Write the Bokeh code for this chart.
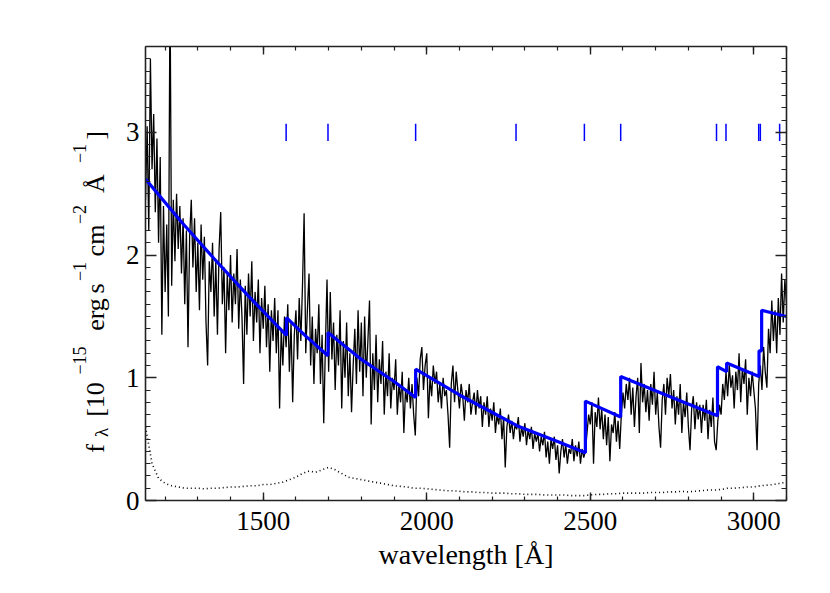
from math import pi
from bokeh.plotting import figure
from bokeh.layouts import row
from bokeh.models import Range1d, FixedTicker, LinearAxis
from bokeh.core.properties import value
from bokeh.embed import file_html
from bokeh.resources import INLINE

# ---------------- data ----------------
wave_start = 1140.0   # first sample of the spectrum [A]
wave_step = 5.0       # sampling of the spectrum [A]
flux = [
    # 1140-1235
    2.45, 3.05, 2.20, 3.60, 2.70, 3.15, 2.35, 2.95, 2.10, 2.80, 1.35, 2.40, 1.70, 2.25, 1.50, 4.20, 1.75, 2.45, 1.95, 2.50,
    # 1240-1335
    2.05, 2.40, 1.85, 2.30, 1.60, 2.20, 1.25, 2.15, 2.45, 1.90, 2.30, 1.70, 2.10, 1.55, 2.25, 1.80, 2.15, 1.45, 1.10, 1.95,
    # 1340-1435
    1.70, 2.10, 1.50, 1.95, 1.35, 2.05, 2.35, 1.60, 1.90, 1.20, 1.85, 1.55, 2.00, 1.45, 1.85, 1.60, 2.05, 1.40, 1.80, 1.50,
    # 1440-1535
    0.95, 1.75, 1.35, 1.85, 1.50, 1.95, 1.30, 1.70, 1.45, 1.80, 1.20, 1.65, 1.40, 1.75, 1.25, 1.60, 1.05, 1.55, 1.30, 1.65,
    # 1540-1635
    1.20, 1.55, 0.75, 1.40, 1.10, 1.50, 1.25, 1.60, 1.05, 1.45, 0.80, 1.35, 1.55, 1.15, 1.65, 1.30, 1.75, 2.34, 1.20, 1.55,
    # 1640-1735
    1.85, 1.10, 1.50, 0.95, 1.40, 1.20, 1.60, 0.95, 1.35, 0.63, 1.25, 1.80, 1.05, 1.70, 1.15, 1.45, 0.90, 1.35, 1.10, 1.55,
    # 1740-1835
    0.75, 1.30, 1.00, 1.45, 0.85, 1.20, 0.72, 1.10, 1.40, 0.95, 1.55, 1.05, 1.45, 0.85, 1.50, 1.00, 1.30, 1.63, 0.62, 1.20,
    # 1840-1935
    0.90, 1.35, 0.80, 1.15, 0.95, 1.30, 0.70, 1.05, 0.85, 1.20, 0.75, 1.00, 0.90, 1.15, 0.70, 0.95, 0.80, 1.05, 0.55, 0.90,
    # 1940-2035
    0.80, 1.00, 0.75, 0.95, 0.70, 0.53, 1.00, 0.85, 1.15, 1.25, 0.90, 1.10, 1.20, 0.67, 1.00, 0.85, 1.10, 0.95, 1.05, 0.80,
    # 2040-2135
    0.95, 0.75, 1.00, 0.85, 0.90, 0.70, 0.43, 0.95, 1.10, 0.80, 1.05, 0.90, 0.75, 0.95, 0.85, 0.65, 0.90, 0.80, 0.95, 0.70,
    # 2140-2235
    0.80, 0.88, 0.70, 0.90, 0.75, 0.85, 0.60, 0.80, 0.70, 0.85, 0.60, 0.75, 0.65, 0.80, 0.55, 0.70, 0.62, 0.75, 0.50, 0.68,
    # 2240-2335
    0.27, 0.60, 0.70, 0.55, 0.65, 0.50, 0.62, 0.58, 0.68, 0.48, 0.60, 0.52, 0.63, 0.45, 0.58, 0.50, 0.60, 0.42, 0.55, 0.48,
    # 2340-2435
    0.55, 0.40, 0.52, 0.45, 0.56, 0.35, 0.48, 0.30, 0.50, 0.42, 0.52, 0.33, 0.45, 0.22, 0.40, 0.50, 0.35, 0.46, 0.30, 0.42,
    # 2440-2535
    0.38, 0.50, 0.32, 0.45, 0.36, 0.48, 0.30, 0.42, 0.35, 0.40, 0.55, 0.70, 0.62, 0.80, 0.30, 0.72, 0.60, 0.84, 0.58, 0.75,
    # 2540-2635
    0.50, 0.70, 0.45, 0.68, 0.32, 0.62, 0.55, 0.72, 0.48, 0.65, 0.42, 0.70, 0.88, 0.75, 0.95, 0.82, 1.00, 0.70, 0.92, 0.60,
    # 2640-2735
    0.85, 1.00, 0.55, 1.12, 0.80, 0.95, 0.72, 0.90, 0.65, 0.95, 0.78, 1.05, 0.70, 0.88, 0.60, 0.43, 0.82, 0.95, 0.70, 1.00,
    # 2740-2835
    0.85, 1.03, 0.75, 0.90, 0.62, 0.85, 0.70, 0.95, 0.55, 0.80, 0.68, 0.88, 0.60, 0.41, 0.75, 0.85, 0.58, 0.80, 0.66, 0.78,
    # 2840-2935
    0.55, 0.78, 0.65, 0.82, 0.50, 0.74, 0.60, 0.84, 0.48, 0.41, 0.65, 0.78, 0.70, 0.95, 0.82, 1.05, 0.85, 1.10, 0.92, 1.02,
    # 2940-3035
    0.75, 1.05, 0.90, 1.20, 0.80, 1.08, 0.95, 1.15, 0.70, 1.00, 0.85, 1.05, 0.90, 0.75, 0.41, 0.95, 1.10, 0.90, 1.25, 1.05,
    # 3040-3100
    0.92, 1.40, 1.20, 1.63, 1.30, 1.55, 1.20, 1.65, 1.35, 1.85, 1.45, 1.80, 1.60,
]

err_start = 1140.0    # first sample of the error spectrum [A]
err_step = 20.0
err = [
    0.60, 0.30, 0.18, 0.14, 0.12, 0.11, 0.10, 0.10, 0.10, 0.095,
    0.10, 0.10, 0.105, 0.11, 0.11, 0.115, 0.12, 0.12, 0.13, 0.13,
    0.14, 0.15, 0.17, 0.19, 0.22, 0.24, 0.23, 0.25, 0.27, 0.25,
    0.22, 0.19, 0.18, 0.17, 0.16, 0.15, 0.14, 0.13, 0.12, 0.115,
    0.11, 0.10, 0.10, 0.095, 0.09, 0.085, 0.08, 0.08, 0.075, 0.07,
    0.07, 0.065, 0.065, 0.06, 0.06, 0.06, 0.055, 0.055, 0.05, 0.05,
    0.05, 0.045, 0.045, 0.045, 0.045, 0.04, 0.04, 0.04, 0.045, 0.05,
    0.05, 0.055, 0.055, 0.06, 0.06, 0.06, 0.06, 0.065, 0.065, 0.065,
    0.07, 0.07, 0.075, 0.07, 0.075, 0.08, 0.085, 0.085, 0.09, 0.10,
    0.10, 0.105, 0.11, 0.11, 0.12, 0.125, 0.13, 0.14, 0.15,
]

model_wave = [1140, 1250, 1350, 1450, 1571, 1571, 1630, 1698, 1698, 1800, 1900, 1966, 1966,
              2100, 2276, 2400, 2485, 2485, 2593, 2593, 2750, 2889, 2889, 2917, 2917,
              3016, 3016, 3024, 3024, 3100]
model_flux = [2.62, 2.27, 1.97, 1.68, 1.345, 1.49, 1.34, 1.18, 1.37, 1.15, 0.97, 0.84, 1.07,
              0.86, 0.61, 0.48, 0.39, 0.81, 0.68, 1.01, 0.84, 0.69, 1.09, 1.05, 1.12,
              1.01, 1.22, 1.22, 1.55, 1.50]

line_wave = [1570, 1698, 1966, 2273, 2482, 2593, 2886, 2915, 3015, 3020, 3079]
line_level = 3.0

x_major = [1500, 2000, 2500, 3000]
x_minor = list(range(1200, 3101, 100))
y_major = [0, 1, 2, 3]
y_minor = [round(0.1 * i, 1) for i in range(38)]
x_label = "wavelength [Å]"
# y label pieces: text, role (main / sub / sup)
y_label_parts = [
    ("f", "main"), ("λ", "sub"), ("[10", "main"), ("−15", "sup"), ("erg", "main"),
    ("s", "main"), ("−1", "sup"), ("cm", "main"), ("−2", "sup"), ("Å", "main"),
    ("−1", "sup"), ("]", "main"),
]

wave = [wave_start + wave_step * i for i in range(len(flux))]
err_wave = [err_start + err_step * i for i in range(len(err))]

# ---------------- layout constants ----------------
X0, X1, Y0, Y1 = 1140, 3100, 0.0, 3.7
FONT = "Liberation Serif"
LW = 120                   # width of the panel holding the y-axis title
FW, FH = 641, 454          # frame size
BT, BB = 46, 80            # top / bottom borders
FB = BT + FH               # frame bottom on the page

yr = Range1d(Y0, Y1)

# ---------------- main figure ----------------
p = figure(frame_width=FW, frame_height=FH, title=None,
           x_range=Range1d(X0, X1), y_range=yr,
           output_backend="svg", toolbar_location=None,
           x_axis_location=None, y_axis_location=None,
           min_border_left=25, min_border_right=22, min_border_top=BT, min_border_bottom=BB)
p.grid.visible = False
p.outline_line_color = None
p.background_fill_color = "white"
p.border_fill_color = "white"

def style_axis(ax, tin, tmin):
    ax.axis_line_color = "#222222"
    ax.axis_line_width = 1.6
    ax.major_tick_line_color = "#222222"
    ax.minor_tick_line_color = "#222222"
    ax.major_tick_line_width = 1.4
    ax.minor_tick_line_width = 1.2
    ax.major_tick_in = tin
    ax.major_tick_out = 0
    ax.minor_tick_in = tmin
    ax.minor_tick_out = 0
    ax.major_label_text_font = FONT
    ax.major_label_text_font_size = "27px"
    ax.major_label_text_color = "black"
    ax.axis_label_text_font = FONT
    ax.axis_label_text_font_size = "28px"
    ax.axis_label_text_font_style = "normal"
    ax.axis_label_text_color = "black"

xt = FixedTicker(ticks=x_major, minor_ticks=x_minor)
yt = FixedTicker(ticks=y_major, minor_ticks=y_minor)

bottom = LinearAxis(ticker=xt, axis_label=x_label)
style_axis(bottom, 8, 4)
bottom.major_label_standoff = 11
bottom.axis_label_standoff = 6
p.add_layout(bottom, "below")

top = LinearAxis(ticker=xt, major_label_overrides={t: "" for t in x_major})
style_axis(top, 8, 4)
top.major_label_text_font_size = "1px"
p.add_layout(top, "above")

left = LinearAxis(ticker=yt)
style_axis(left, 11, 5)
left.major_label_standoff = 6
p.add_layout(left, "left")

right = LinearAxis(ticker=yt, major_label_overrides={t: "" for t in y_major})
style_axis(right, 11, 5)
right.major_label_text_font_size = "1px"
p.add_layout(right, "right")

p.line(err_wave, err, line_color="black", line_width=1.6, line_dash="1 3")
p.line(wave, flux, line_color="black", line_width=1.3)
p.line(model_wave, model_flux, line_color="#0000ff", line_width=3.2)
p.segment(x0=line_wave, y0=[line_level - 0.07] * len(line_wave),
          x1=line_wave, y1=[line_level + 0.07] * len(line_wave),
          line_color="#0000ff", line_width=1.5)

# ---------------- side panel with the y-axis title ----------------
# its frame lines up with the main frame (same height, same y range)
lab = figure(frame_width=LW, frame_height=FH, title=None,
             x_range=Range1d(0, LW), y_range=yr,
             output_backend="svg", toolbar_location=None,
             x_axis_location=None, y_axis_location=None,
             min_border=0, min_border_left=0, min_border_right=0,
             min_border_top=BT, min_border_bottom=BB)
lab.grid.visible = False
lab.outline_line_color = None
lab.background_fill_color = "white"
lab.border_fill_color = "white"

def page_y(py):
    # page pixel row -> value on the shared y range
    return Y0 + (FB - py) * (Y1 - Y0) / FH

# centre of each piece along the label (page pixel rows) and across it (page px)
centre_y = [448, 432, 399, 360, 314, 288, 271, 240, 214, 183, 153, 135]
centre_x = {"main": 94.5, "sub": 101, "sup": 79}
size = {"main": "26px", "sub": "19px", "sup": "18px"}
for role in ("main", "sub", "sup"):
    xs, ys, ts = [], [], []
    for (txt, r), cy in zip(y_label_parts, centre_y):
        if r == role:
            xs.append(centre_x[role])
            ys.append(page_y(cy))
            ts.append(txt)
    lab.text(x=xs, y=ys, text=ts, angle=pi / 2, text_align="center",
             text_baseline="middle", text_font=value(FONT),
             text_font_size=value(size[role]), text_color="black")

layout = row(lab, p)
open("out.html", "w").write(file_html(layout, INLINE))
